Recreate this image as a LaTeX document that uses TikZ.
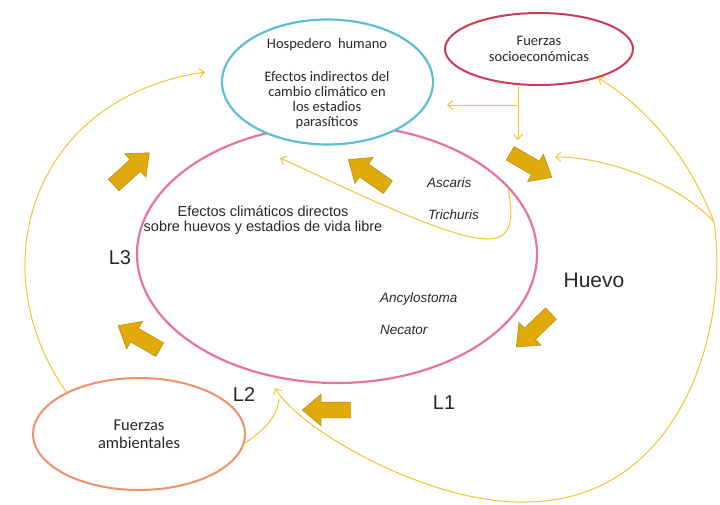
\documentclass[tikz,border=0pt]{standalone}
\usepackage{fontspec}
\setmainfont{Liberation Sans}
\newfontfamily\calibrifont{Carlito}
\usetikzlibrary{arrows.meta, shapes.geometric, shapes.arrows}
\definecolor{lifepink}{RGB}{234,115,155}
\definecolor{hostblue}{RGB}{95,190,212}
\definecolor{socred}{RGB}{205,60,82}
\definecolor{envorange}{RGB}{240,145,105}
\definecolor{goldfill}{RGB}{224,170,10}
\definecolor{golddraw}{RGB}{185,140,20}
\definecolor{thinyellow}{RGB}{240,196,50}
\definecolor{txtgrey}{RGB}{40,40,40}

\begin{document}
\begin{tikzpicture}[
    x=1pt, y=-1pt,
    every node/.style={text=txtgrey},
    life/.style={draw=lifepink, line width=2.2pt, ellipse, minimum width=400pt,
                 minimum height=258pt, inner sep=0pt},
    host/.style={draw=hostblue, line width=2.2pt, fill=white, ellipse, minimum width=211pt,
                 minimum height=125pt, inner sep=0pt},
    force/.style={ellipse, line width=2pt, fill=white, inner sep=0pt, align=center,
                  font=\calibrifont\fontsize{14.5}{16}\selectfont},
    cal/.style={font=\calibrifont\fontsize{14.5}{15}\selectfont, align=center, inner sep=0pt},
    txt/.style={font=\fontsize{14.5}{15}\selectfont, align=center, inner sep=0pt},
    spec/.style={font=\itshape\fontsize{13.5}{15}\selectfont, anchor=west, inner sep=0pt},
    stage/.style={font=\fontsize{20}{22}\selectfont, inner sep=0pt},
    gold/.style={single arrow, draw=golddraw, fill=goldfill, line width=0.6pt,
                 minimum height=48pt, inner xsep=0pt, inner ysep=7.5pt,
                 single arrow head extend=8pt, single arrow tip angle=80},
    arr/.style={draw=thinyellow, line width=1pt, -{Straight Barb[length=5pt, width=9pt]}},
    link/.style={draw=thinyellow, line width=1pt},
]
    \useasboundingbox (0,0) rectangle (720,504);

    % Life cycle in the centre, host on top of it.
    \node[life] (life) at (337,254) {};
    \node[host] (host) at (327.5,82) {};
    \node[cal] (hosttitle) at (327,45) {Hospedero\ \ humano};
    \node[cal] (hosttext) at (327,100) {Efectos indirectos del\\cambio climático en\\los estadios\\parasíticos};
    \node[txt] (direct) at (263,220) {Efectos climáticos directos\\sobre huevos y estadios de vida libre};

    % Forces.
    \node[force, draw=socred, minimum width=188pt, minimum height=72pt] (socio) at (539,49)
        {Fuerzas\\socioeconómicas};
    \node[force, draw=envorange, minimum width=212pt, minimum height=112pt,
          font=\calibrifont\fontsize{16.5}{18}\selectfont] (amb) at (139,434)
        {Fuerzas\\ambientales};

    % Species and stages.
    \node[spec] (ascaris) at (427,183) {Ascaris};
    \node[spec] (trichuris) at (428,215) {Trichuris};
    \node[spec] (ancylo) at (380,299) {Ancylostoma};
    \node[spec] (necator) at (380,330) {Necator};
    \node[stage, font=\fontsize{21}{23}\selectfont] (huevo) at (594,280) {Huevo};
    \node[stage] (lone) at (444,403) {L1};
    \node[stage] (ltwo) at (244,395) {L2};
    \node[stage] (lthree) at (120,258) {L3};

    % Thick arrows round the cycle.
    \node[gold, rotate=42] (g1) at (128,172) {};
    \node[gold, rotate=145] (g2) at (372,176) {};
    \node[gold, rotate=-30] (g3) at (527,163) {};
    \node[gold, rotate=-136] (g4) at (537,327) {};
    \node[gold, rotate=180] (g5) at (331,410) {};
    \node[gold, rotate=150] (g6) at (143,340) {};

    % Free ends of the thin arrows.
    \coordinate (hostin) at (205,72);
    \coordinate (soctop) at ([xshift=-21pt]socio.south);
    \coordinate (socmid) at (518,105);
    \coordinate (socdown) at (518,140);
    \coordinate (socleft) at (447,105);
    \coordinate (rt) at (714,222);
    \coordinate (socin) at (555,157);
    \coordinate (bottom) at (527,502);
    \coordinate (ltwoin) at (275,388);
    \coordinate (ltwojoin) at (279,399);
    \coordinate (hookstart) at (508,188);
    \coordinate (hookturn) at (470,237);
    \coordinate (hookend) at (280,158);

    % Thin arrows.
    \draw[arr] (amb.150) .. controls (-20,270) and (30,98) .. (hostin);
    \draw[arr] (soctop) -- (socdown);
    \draw[arr] (socmid) -- (socleft);
    \draw[arr] (rt) .. controls (690,160) and (650,110) .. (socio.-26);
    \draw[arr] (rt) .. controls (680,185) and (610,157) .. (socin);
    \draw[arr] (rt) .. controls (730,330) and (680,500) .. (bottom)
        .. controls (430,505) and (300,430) .. (ltwoin);
    \draw[link] (amb.-5) .. controls (265,430) and (278,415) .. (ltwojoin);
    \draw[arr] (hookstart) .. controls (518,240) and (500,242) .. (hookturn)
        .. controls (420,225) and (340,185) .. (hookend);
\end{tikzpicture}
\end{document}
